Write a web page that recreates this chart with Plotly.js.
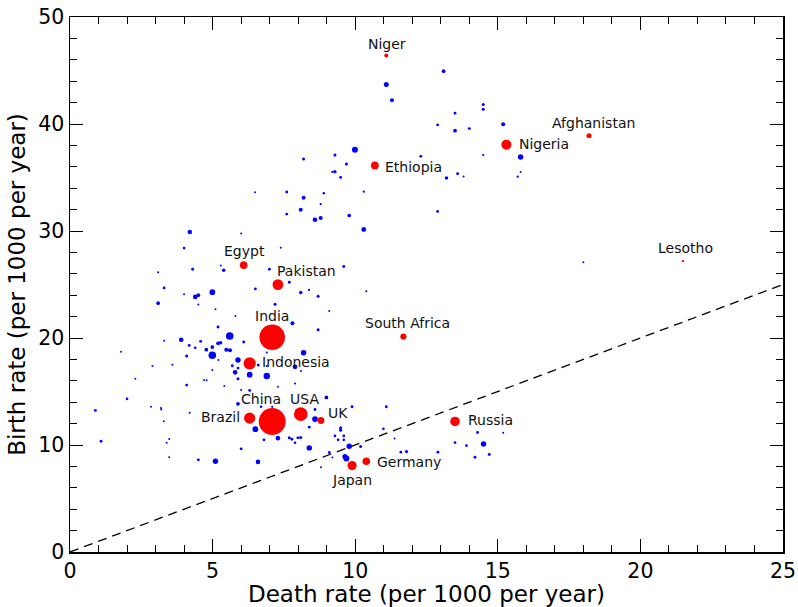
<!DOCTYPE html>
<html>
<head>
<meta charset="utf-8">
<script src="https://cdn.plot.ly/plotly-3.0.1.min.js"></script>
<style>html,body{margin:0;padding:0;background:#fff;}</style>
</head>
<body>
<div id="chart"></div>
<script>
// Highlighted countries
const hiNames = ["Niger","Afghanistan","Nigeria","Ethiopia","Egypt","Pakistan","India","South Africa","Indonesia","China","USA","UK","Brazil","Russia","Germany","Japan","Lesotho"];
const hiDeath = [11.09,18.2,15.3,10.69,6.09,7.29,7.09,11.69,6.3,7.09,8.09,8.8,6.3,13.5,10.39,9.89,21.49];
const hiBirth = [46.4,38.9,38.07,36.13,26.81,24.99,20.07,20.13,17.63,12.2,12.88,12.29,12.51,12.2,8.48,8.08,27.18];
const hiPop   = [15,29,155,85,80,180,1200,50,240,1340,310,62,200,140,82,127,2];

// Other countries
const otherDeath = [11.09,11.29,9.99,8.19,9.29,9.69,9.29,9.2,9.49,12.3,10.3,7.6,6.49,8.9,8.19,8.79,8.09,7.6,8.59,8.79,9.79,10.3,4.2,6.0,4.0,7.39,4.3,5.39,5.29,3.09,6.99,9.6,
13.1,14.49,14.49,13.5,12.89,13.5,14.0,15.19,15.8,14.49,13.2,13.59,13.8,15.8,15.7,12.89,18.0,
7.69,3.3,4.99,4.39,4.5,6.5,8.09,8.38,8.7,10.39,4.0,3.09,7.19,9.09,5.1,5.8,7.8,8.7,5.19,5.6,3.9,4.18,4.58,4.39,4.99,5.19,5.28,4.78,5.48,5.61,6.09,4.99,4.09,1.79,5.89,8.19,5.69,5.89,5.79,6.3,6.9,7.89,5.89,4.99,2.89,3.59,2.29,4.7,4.79,4.09,5.41,6.3,7.29,2.0,5.89,8.99,6.7,7.09,8.59,9.89,11.09,0.89,4.2,3.2,
8.59,6.5,8.39,9.49,9.49,7.29,7.69,7.78,7.99,8.09,7.89,6.8,8.39,9.29,9.4,9.6,9.6,9.79,10.19,9.69,9.64,9.09,9.2,10.99,11.38,11.6,11.8,1.09,3.39,3.48,6.0,4.5,5.1,6.59,3.48,8.8,2.84,3.19,3.29,6.0,
12.9,13.5,13.9,14.29,14.5,14.2,14.7,15.19,7.89,4.5,3.3,5.2,6.6,6.9,8.1,6.9];
const otherBirth = [43.69,42.22,37.6,36.73,37.1,36.26,35.54,35.52,35.01,36.98,33.67,33.64,33.61,33.52,33.11,32.52,31.99,31.58,31.05,31.21,31.45,30.14,29.9,29.77,28.4,28.43,26.43,26.34,26.77,26.15,26.43,26.68,
44.94,41.82,41.38,41.01,39.91,39.38,39.57,39.97,36.92,37.1,34.95,35.35,35.1,35.51,35.08,31.83,27.09,
25.21,24.68,24.28,23.84,24.0,24.59,24.25,24.49,23.9,24.37,24.09,23.25,23.15,22.53,22.69,22.05,21.37,20.78,21.03,20.19,19.84,19.31,19.69,19.09,19.15,19.5,19.56,18.91,18.91,18.85,19.63,18.38,18.32,18.72,17.94,18.62,17.41,17.19,16.79,16.57,16.44,17.31,16.19,17.0,17.38,17.5,16.19,16.07,16.04,15.6,15.51,15.1,15.44,14.32,13.85,14.45,13.57,13.57,13.32,13.57,13.57,13.23,13.01,13.32,
12.42,11.48,11.67,11.6,11.39,10.64,10.67,10.54,10.67,10.7,10.2,10.48,9.73,10.85,10.48,10.85,10.48,9.89,9.86,8.74,8.92,9.3,8.83,11.51,10.61,9.33,9.39,10.35,10.2,10.57,9.64,8.61,8.48,8.42,8.86,7.92,13.57,13.45,12.23,15.13,
9.33,10.23,9.95,11.17,10.1,8.86,9.11,11.14,15.75,23.12,19.75,17.94,17.47,18.65,16.91,17.39];
const otherPop = [28,15,45,6,6,6,8,2,5,5,2,5,1,3,15,2,15,5,22,15,12,25,22,1,4,1,5,10,1,1,5,5,
12,6,6,5,4,12,5,15,35,2,10,5,1,1,2,5,1,
5,5,40,22,12,5,10,2,6,1,1,12,6,1,1,1,15,6,5,80,22,5,5,4,12,12,10,12,15,15,5,80,6,1,35,35,5,5,22,40,55,25,6,1,1,1,1,1,1,5,1,5,1,4,12,12,3,2,5,5,5,5,1,1,
40,40,5,6,6,22,6,5,5,6,3,5,35,4,4,4,4,35,6,45,30,5,1,4,1,4,8,5,1,1,5,5,35,22,1,1,1,1,1,1,
5,4,4,5,35,5,5,1,1,1,1,1,5,1,1,1];

// Reference line: birth rate = death rate
const parityLine = [0, 25];

// Label placement (px offsets relative to the marker)
const labelPlacement = {
  "Niger":        {xs:1,  ys:12, xa:"center"},
  "Afghanistan":  {xs:4,  ys:13, xa:"center"},
  "Nigeria":      {xs:11, ys:1,  xa:"left"},
  "Ethiopia":     {xs:8,  ys:-2, xa:"left"},
  "Egypt":        {xs:1,  ys:14, xa:"center"},
  "Pakistan":     {xs:-3, ys:14, xa:"left"},
  "India":        {xs:0,  ys:21, xa:"center"},
  "South Africa": {xs:4,  ys:14, xa:"center"},
  "Indonesia":    {xs:10, ys:1,  xa:"left"},
  "China":        {xs:-11,ys:22, xa:"center"},
  "USA":          {xs:4,  ys:15, xa:"center"},
  "UK":           {xs:5,  ys:8,  xa:"left"},
  "Brazil":       {xs:-8, ys:1,  xa:"right"},
  "Russia":       {xs:11, ys:1,  xa:"left"},
  "Germany":      {xs:9,  ys:-1, xa:"left"},
  "Japan":        {xs:0,  ys:-14,xa:"center"},
  "Lesotho":      {xs:3,  ys:13, xa:"center"}
};

const sizeOf = p => 0.7*Math.sqrt(p) + 1.3;
const FONT = "DejaVu Sans, Liberation Sans, sans-serif";

const traces = [
  {
    x: parityLine, y: parityLine, mode: "lines", type: "scatter",
    line: {color: "#000", width: 1.3, dash: "9px,6px"}, showlegend: false
  },
  {
    x: otherDeath, y: otherBirth, mode: "markers", type: "scatter",
    marker: {color: "#0000ff", size: otherPop.map(sizeOf), line: {width: 0}, opacity: 1},
    showlegend: false
  },
  {
    x: hiDeath, y: hiBirth, text: hiNames, mode: "markers", type: "scatter",
    marker: {color: "#ff0000", size: hiPop.map(sizeOf), line: {width: 0}, opacity: 1},
    showlegend: false
  }
];

const annotations = hiNames.map((n, i) => ({
  x: hiDeath[i], y: hiBirth[i], xref: "x", yref: "y", text: n, showarrow: false,
  xanchor: labelPlacement[n].xa, yanchor: "middle",
  xshift: labelPlacement[n].xs, yshift: labelPlacement[n].ys,
  font: {family: FONT, size: 14, color: "#111"}
}));

const layout = {
  width: 798, height: 607,
  margin: {l: 70, r: 15, t: 17, b: 55},
  font: {family: FONT},
  xaxis: {
    range: [0, 25], dtick: 5, showgrid: false, zeroline: false,
    ticks: "inside", ticklen: 13, tickwidth: 1, tickcolor: "black",
    showline: true, linecolor: "black", linewidth: 1.5, mirror: "allticks",
    tickfont: {family: FONT, size: 20.5, color: "black"},
    minor: {dtick: 1, ticks: "inside", ticklen: 7, tickcolor: "black", tickwidth: 1},
    title: {text: "Death rate (per 1000 per year)", font: {family: FONT, size: 23, color: "black"}, standoff: 4}
  },
  yaxis: {
    range: [0, 50], dtick: 10, showgrid: false, zeroline: false,
    ticks: "inside", ticklen: 13, tickwidth: 1, tickcolor: "black",
    showline: true, linecolor: "black", linewidth: 1.5, mirror: "allticks",
    tickfont: {family: FONT, size: 20.5, color: "black"},
    minor: {dtick: 2, ticks: "inside", ticklen: 7, tickcolor: "black", tickwidth: 1},
    title: {text: "Birth rate (per 1000 per year)", font: {family: FONT, size: 23, color: "black"}, standoff: 6}
  },
  annotations: annotations
};

Plotly.newPlot("chart", traces, layout, {staticPlot: true});
</script>
</body>
</html>
